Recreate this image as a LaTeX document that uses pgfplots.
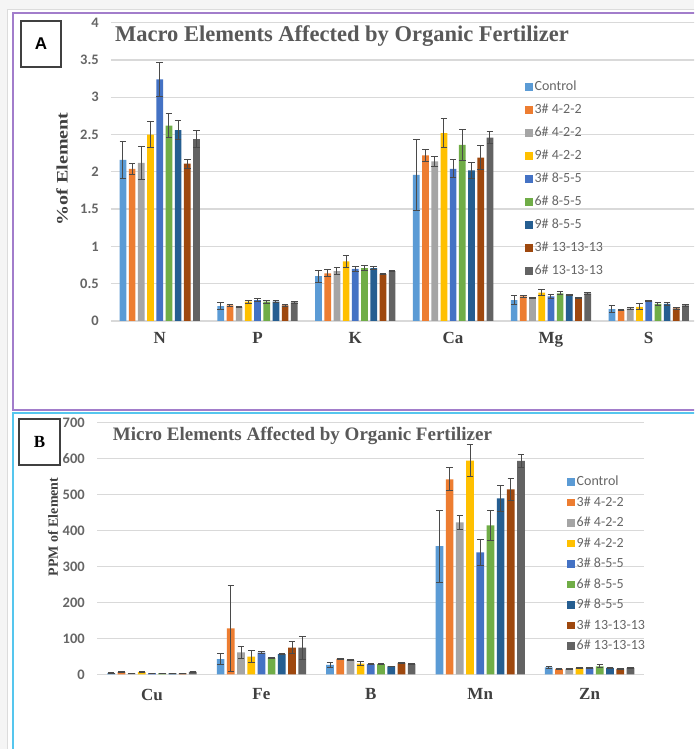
\documentclass[border=0pt]{standalone}
\usepackage{fontspec}
\setmainfont{Liberation Serif}
\newfontfamily\calibri{Carlito}
\newfontfamily\arialf{Liberation Sans}
\usepackage{pgfplots}
\pgfplotsset{compat=1.18}
\usepackage{pgfplotstable}

\definecolor{c1}{HTML}{5B9BD5}
\definecolor{c2}{HTML}{ED7D31}
\definecolor{c3}{HTML}{A5A5A5}
\definecolor{c4}{HTML}{FFC000}
\definecolor{c5}{HTML}{4472C4}
\definecolor{c6}{HTML}{70AD47}
\definecolor{c7}{HTML}{255E91}
\definecolor{c8}{HTML}{9E480E}
\definecolor{c9}{HTML}{636363}
\definecolor{errc}{HTML}{4A4A4A}
\definecolor{gridc}{HTML}{D9D9D9}
\definecolor{tickc}{HTML}{666666}
\definecolor{titlec}{HTML}{595959}
\definecolor{catc}{HTML}{404040}
\definecolor{purplec}{HTML}{A27DCB}
\definecolor{cyanc}{HTML}{55C6EE}
\definecolor{bgout}{HTML}{F5F5F5}
\definecolor{outline}{HTML}{DCDCDC}

% Macro elements (%): N P K Ca Mg S
\pgfplotstableread{
x v1   e1   v2   e2   v3   e3   v4   e4   v5   e5   v6   e6   v7   e7   v8   e8   v9   e9
0 2.16 0.25 2.04 0.07 2.12 0.22 2.50 0.18 3.24 0.23 2.62 0.16 2.56 0.13 2.11 0.06 2.44 0.12
1 0.20 0.05 0.21 0.01 0.19 0.01 0.26 0.02 0.28 0.02 0.26 0.02 0.26 0.01 0.21 0.01 0.25 0.01
2 0.60 0.08 0.64 0.05 0.67 0.05 0.80 0.08 0.70 0.03 0.71 0.03 0.71 0.02 0.63 0.01 0.67 0.01
3 1.96 0.48 2.22 0.08 2.14 0.07 2.52 0.20 2.04 0.12 2.36 0.21 2.02 0.11 2.19 0.16 2.46 0.08
4 0.28 0.06 0.33 0.01 0.31 0.01 0.38 0.04 0.33 0.03 0.37 0.02 0.35 0.01 0.31 0.01 0.37 0.01
5 0.16 0.05 0.15 0.01 0.17 0.01 0.19 0.04 0.27 0.01 0.23 0.02 0.23 0.02 0.17 0.01 0.21 0.01
}\tabA

% Micro elements (PPM): Cu Fe B Mn Zn
\pgfplotstableread{
x v1  e1  v2  e2  v3  e3  v4  e4  v5  e5  v6  e6  v7  e7  v8  e8  v9  e9
0 3   1   6   1   3   0.5 6   1   3   0.5 3   0.5 3   0.5 3   0.5 7   1
1 42  15  128 120 61  17  49  16  60  2   45  1   56  1   74  16  74  32
2 26  8   43  2   40  2   30  5   28  2   28  2   22  1   32  2   28  1
3 356 100 542 32  422 19  594 45  339 37  414 41  489 36  514 31  593 18
4 19  2   15  1   15  1   18  1   18  1   22  4   18  1   15  1   18  2
}\tabB

\pgfplotsset{
  ybar legend/.style={legend image code/.code={\fill[##1] (0pt,-3.6pt) rectangle (7.5pt,3.6pt);}},
  panel/.style={
    scale only axis, anchor=south west,
    ybar, ymin=0,
    axis line style={draw=none},
    major tick length=0pt,
    ymajorgrids, grid style={draw=gridc, line width=1.3pt},
    /pgf/number format/assume math mode=true,
    yticklabel style={font=\calibri\bfseries\fontsize{14.5}{14.5}\selectfont, text=tickc},
    xticklabel style={font=\bfseries\fontsize{17}{17}\selectfont, text=catc},
    legend style={draw=none, fill=none, anchor=north west,
      font=\calibri\fontsize{14}{14}\selectfont, text=tickc,
      inner sep=0pt, outer sep=0pt,
      nodes={inner sep=0pt, text height=9.5pt, text depth=2.5pt},
      /tikz/every odd column/.append style={column sep=2pt}},
    legend cell align=left,
    title style={text=titlec, anchor=base},
    ylabel style={text=catc, anchor=center},
    error bars/y dir=both, error bars/y explicit,
    error bars/error bar style={draw=errc, line width=1pt},
    error bars/error mark options={rotate=90, draw=errc, line width=1pt, mark size=3.3pt},
    every axis plot/.append style={draw=none},
  }
}

\begin{document}
\begin{tikzpicture}
\useasboundingbox (0,0) rectangle (694pt,749pt);
\clip (0,0) rectangle (694pt,749pt);
\fill[bgout] (0,0) rectangle (694pt,749pt);
\fill[white] (7.5pt,0) rectangle (700pt,739pt);
\draw[outline, line width=1pt] (7.5pt,0) -- (7.5pt,739pt) -- (700pt,739pt);
\draw[purplec, line width=2pt] (13pt,339pt) rectangle (710pt,736pt);
\draw[cyanc, line width=2pt] (13pt,-10pt) rectangle (710pt,336pt);
\draw[catc, line width=1.5pt, fill=white] (21pt,682pt) rectangle (61pt,728pt);
\node[font=\arialf\bfseries\fontsize{17}{17}\selectfont] at (41pt,705pt) {A};
\draw[catc, line width=1.5pt, fill=white] (19pt,284pt) rectangle (60pt,330pt);
\node[font=\bfseries\fontsize{17}{17}\selectfont] at (39.5pt,307pt) {B};

\begin{axis}[panel,
  at={(110.8pt,428pt)}, width=586.8pt, height=298.3pt,
  xmin=-0.5, xmax=5.5, ymax=4,
  ybar=2.5pt, bar width=6.7pt,
  xtick={0,...,5}, xticklabels={N,P,K,Ca,Mg,S},
  ytick={0,0.5,...,4},
  yticklabel style={xshift=-8.5pt},
  xticklabel style={yshift=-8pt},
  title={Macro Elements Affected by Organic Fertilizer},
  title style={font=\bfseries\fontsize{22.5}{22.5}\selectfont, at={(axis description cs:0.394,0.9185)}},
  ylabel={\scalebox{1}[0.8]{\%of Element}},
  ylabel style={font=\bfseries\fontsize{20}{20}\selectfont, at={(axis description cs:-0.0832,0.51)}},
  legend style={at={(axis description cs:0.706,0.8046)}, row sep=11pt},
]
\addplot[fill=c1] table[x=x,y=v1,y error=e1] {\tabA}; \addlegendentry{Control}
\addplot[fill=c2] table[x=x,y=v2,y error=e2] {\tabA}; \addlegendentry{3\# 4-2-2}
\addplot[fill=c3] table[x=x,y=v3,y error=e3] {\tabA}; \addlegendentry{6\# 4-2-2}
\addplot[fill=c4] table[x=x,y=v4,y error=e4] {\tabA}; \addlegendentry{9\# 4-2-2}
\addplot[fill=c5] table[x=x,y=v5,y error=e5] {\tabA}; \addlegendentry{3\# 8-5-5}
\addplot[fill=c6] table[x=x,y=v6,y error=e6] {\tabA}; \addlegendentry{6\# 8-5-5}
\addplot[fill=c7] table[x=x,y=v7,y error=e7] {\tabA}; \addlegendentry{9\# 8-5-5}
\addplot[fill=c8] table[x=x,y=v8,y error=e8] {\tabA}; \addlegendentry{3\# 13-13-13}
\addplot[fill=c9] table[x=x,y=v9,y error=e9] {\tabA}; \addlegendentry{6\# 13-13-13}
\end{axis}

\begin{axis}[panel,
  at={(97.3pt,74.7pt)}, width=547pt, height=251.8pt,
  xmin=-0.5, xmax=4.5, ymax=700,
  ybar=2.5pt, bar width=7.7pt,
  xtick={0,...,4}, xticklabels={Cu,Fe,B,Mn,Zn},
  ytick={0,100,...,700},
  yticklabel style={xshift=-9pt},
  xticklabel style={yshift=-11pt},
  title={Micro Elements Affected by Organic Fertilizer},
  title style={font=\bfseries\fontsize{19}{19}\selectfont, at={(axis description cs:0.375,0.904)}},
  ylabel={PPM of Element},
  ylabel style={font=\bfseries\fontsize{14}{14}\selectfont, at={(axis description cs:-0.081,0.585)}},
  legend style={at={(axis description cs:0.859,0.7875)}, row sep=8.5pt},
]
\addplot[fill=c1] table[x=x,y=v1,y error=e1] {\tabB}; \addlegendentry{Control}
\addplot[fill=c2] table[x=x,y=v2,y error=e2] {\tabB}; \addlegendentry{3\# 4-2-2}
\addplot[fill=c3] table[x=x,y=v3,y error=e3] {\tabB}; \addlegendentry{6\# 4-2-2}
\addplot[fill=c4] table[x=x,y=v4,y error=e4] {\tabB}; \addlegendentry{9\# 4-2-2}
\addplot[fill=c5] table[x=x,y=v5,y error=e5] {\tabB}; \addlegendentry{3\# 8-5-5}
\addplot[fill=c6] table[x=x,y=v6,y error=e6] {\tabB}; \addlegendentry{6\# 8-5-5}
\addplot[fill=c7] table[x=x,y=v7,y error=e7] {\tabB}; \addlegendentry{9\# 8-5-5}
\addplot[fill=c8] table[x=x,y=v8,y error=e8] {\tabB}; \addlegendentry{3\# 13-13-13}
\addplot[fill=c9] table[x=x,y=v9,y error=e9] {\tabB}; \addlegendentry{6\# 13-13-13}
\end{axis}
\end{tikzpicture}
\end{document}
